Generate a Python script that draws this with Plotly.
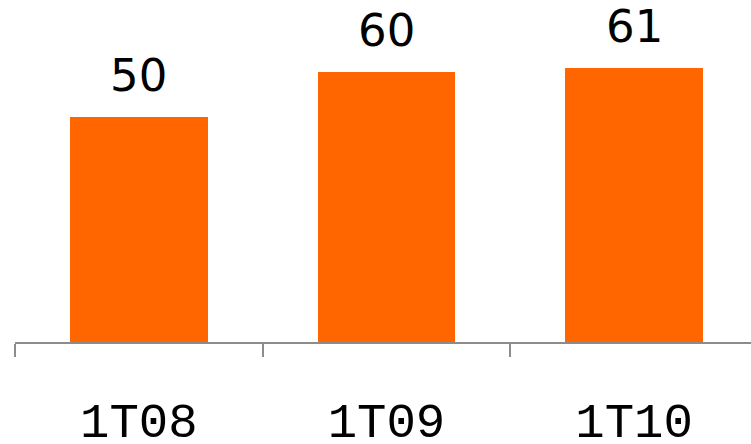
import plotly.graph_objects as go

quarters = ["1T08", "1T09", "1T10"]
values = [50, 60, 61]

bar_color = "#FF6600"
axis_color = "#8C8C8C"

fig = go.Figure(
    go.Bar(
        x=quarters,
        y=values,
        width=0.556,
        marker=dict(color=bar_color, line=dict(width=0)),
        hoverinfo="skip",
    )
)

# value labels above each bar
for q, v in zip(quarters, values):
    fig.add_annotation(
        x=q, y=v, text=str(v), showarrow=False,
        yanchor="bottom", yshift=13,
        font=dict(family="DejaVu Sans", size=45, color="#000000"),
    )

fig.update_layout(
    width=751, height=444,
    margin=dict(l=15, r=0, t=0, b=102, autoexpand=False),
    paper_bgcolor="white", plot_bgcolor="white",
    showlegend=False,
    bargap=0,
)
fig.update_xaxes(
    type="category",
    range=[-0.5, 2.472],
    automargin=False,
    showline=True, linecolor=axis_color, linewidth=2,
    ticks="outside", ticklen=13, tickcolor=axis_color, tickwidth=2,
    tickson="boundaries",
    tickfont=dict(family="Liberation Mono", size=49, color="#000000"),
    ticklabelstandoff=34,
    showgrid=False, zeroline=False,
)
fig.update_yaxes(
    range=[0, 76],
    automargin=False,
    visible=False, showgrid=False, zeroline=False,
)

fig.write_html("out.html")
